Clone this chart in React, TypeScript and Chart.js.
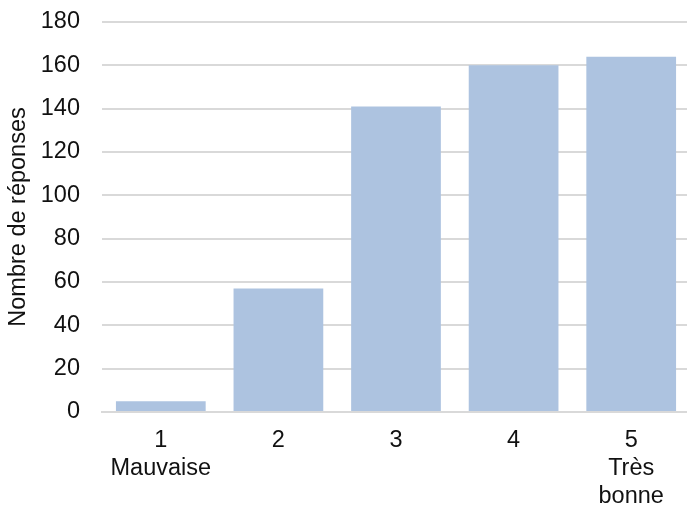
import React, { useEffect, useRef } from "react";
import { Chart, registerables } from "chart.js";

Chart.register(...registerables);

const categories: (string | string[])[] = [["1", "Mauvaise"], "2", "3", "4", ["5", "Très", "bonne"]];
const responses: number[] = [5, 57, 141, 160, 164];
const yTitle = "Nombre de réponses";
const yMin = 0;
const yMax = 180;
const yStep = 20;

export default function App() {
  const ref = useRef<HTMLCanvasElement | null>(null);

  useEffect(() => {
    if (!ref.current) return;
    const font = { family: "'Liberation Sans', Arial, sans-serif", size: 23.5, lineHeight: 1.2 };
    const chart = new Chart(ref.current, {
      type: "bar",
      data: {
        labels: categories,
        datasets: [
          {
            data: responses,
            backgroundColor: "#ADC3E0",
            borderWidth: 0,
            categoryPercentage: 0.763,
            barPercentage: 1,
          },
        ],
      },
      options: {
        animation: false,
        responsive: true,
        maintainAspectRatio: false,
        layout: { padding: { top: 22, right: 2, left: 0, bottom: 0 } },
        plugins: { legend: { display: false }, tooltip: { enabled: false } },
        scales: {
          x: {
            grid: { display: false, drawTicks: false },
            border: { display: true, color: "#D9D9D9", width: 2 },
            ticks: { color: "#111", font, padding: 14, maxRotation: 0, autoSkip: false },
            afterFit: (s: any) => {
              s.height = 108;
            },
          },
          y: {
            min: yMin,
            max: yMax,
            ticks: { stepSize: yStep, color: "#111", font, padding: 22 },
            grid: { color: "#D9D9D9", lineWidth: 2, drawTicks: false },
            border: { display: false },
            title: { display: true, text: yTitle, color: "#111", font, padding: { top: 4, bottom: 0 } },
            afterFit: (s: any) => {
              s.width = 102;
              s.paddingTop = 0;
              s.paddingBottom = 0;
            },
          },
        },
      },
    });
    return () => chart.destroy();
  }, []);

  return (
    <div style={{ position: "fixed", left: 0, top: 0, width: 687, height: 505, overflow: "hidden", background: "#fff" }}>
      <div style={{ position: "relative", width: 692, height: 520 }}>
        <canvas ref={ref} />
      </div>
    </div>
  );
}
